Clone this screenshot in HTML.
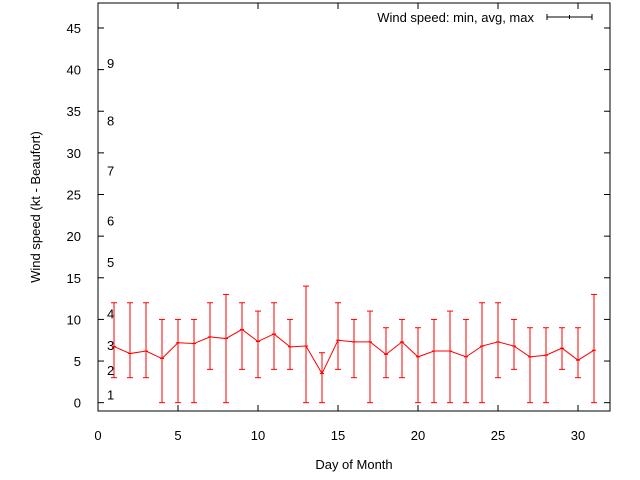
<!DOCTYPE html>
<html><head><meta charset="utf-8"><style>body{margin:0;background:#fff}svg{display:block;font-family:"Liberation Sans",sans-serif}</style></head>
<body>
<svg id="c" width="640" height="480" viewBox="0 0 640 480"></svg>
<script>
const days=[1,2,3,4,5,6,7,8,9,10,11,12,13,14,15,16,17,18,19,20,21,22,23,24,25,26,27,28,29,30,31];
const avgVals=[6.75,5.9,6.2,5.3,7.2,7.1,7.9,7.7,8.8,7.35,8.25,6.7,6.8,3.5,7.5,7.3,7.3,5.8,7.3,5.5,6.2,6.2,5.5,6.8,7.3,6.8,5.5,5.7,6.55,5.1,6.3];
const minVals=[3,3,3,0,0,0,4,0,4,3,4,4,0,0,4,3,0,3,3,0,0,0,0,0,3,4,0,0,4,3,0];
const maxVals=[12,12,12,10,10,10,12,13,12,11,12,10,14,6,12,10,11,9,10,9,10,11,10,12,12,10,9,9,9,9,13];
const xTicks=[0,5,10,15,20,25,30];
const yTicks=[0,5,10,15,20,25,30,35,40,45];
const beaufortLabels=["1","2","3","4","5","6","7","8","9"];
const beaufortLevels=[1,3.9,6.9,10.7,16.9,21.9,27.9,33.9,40.8];
const L=98,R=610,T=3,B=411,xmin=0,xmax=32,ymin=-1,ymax=48;
const X=v=>L+(v-xmin)/(xmax-xmin)*(R-L);
const Y=v=>B-(v-ymin)/(ymax-ymin)*(B-T);
const svg=document.getElementById('c');
const NS='http://www.w3.org/2000/svg';
function mk(t,a,p){const e=document.createElementNS(NS,t);for(const k in a)e.setAttribute(k,a[k]);(p||svg).appendChild(e);return e;}
const box=mk('rect',{x:L,y:T,width:R-L,height:B-T,fill:'none',stroke:'#000','stroke-width':1});


xTicks.forEach(v=>{
  const x=X(v);
  mk('line',{x1:x,y1:B,x2:x,y2:B-6,stroke:'#000'});
  mk('line',{x1:x,y1:T,x2:x,y2:T+6,stroke:'#000'});
  const t=mk('text',{x:x,y:440,'text-anchor':'middle','font-size':13});
  t.textContent=v;
  
  
});
yTicks.forEach(v=>{
  const y=Y(v);
  mk('line',{x1:L,y1:y,x2:L+6,y2:y,stroke:'#000'});
  mk('line',{x1:R,y1:y,x2:R-6,y2:y,stroke:'#000'});
  const t=mk('text',{x:81,y:y+5,'text-anchor':'end','font-size':13});
  t.textContent=v;
  
  
});
beaufortLabels.forEach((s,i)=>{
  const t=mk('text',{x:107,y:Y(beaufortLevels[i])+5,'font-size':13});
  t.textContent=s;
  
  
});
const g=mk('g',{stroke:'#f00','stroke-width':1,fill:'none'});


days.forEach((d,i)=>{
  const x=X(d),y1=Y(minVals[i]),y2=Y(maxVals[i]);
  mk('line',{x1:x,y1:y1,x2:x,y2:y2},g);
  mk('line',{x1:x-3,y1:y1,x2:x+3,y2:y1},g);
  mk('line',{x1:x-3,y1:y2,x2:x+3,y2:y2},g);
  mk('line',{x1:x-2,y1:Y(avgVals[i]),x2:x+2,y2:Y(avgVals[i])},g);
});
const pl=mk('polyline',{points:days.map((d,i)=>X(d)+','+Y(avgVals[i])).join(' ')},g);


const lt=mk('text',{x:534,y:22,'text-anchor':'end','font-size':13});
lt.textContent='Wind speed: min, avg, max';


const lg=mk('g',{stroke:'#000'});


mk('line',{x1:547,y1:17,x2:592,y2:17},lg);
mk('line',{x1:547,y1:14,x2:547,y2:20},lg);
mk('line',{x1:592,y1:14,x2:592,y2:20},lg);
mk('line',{x1:569.5,y1:15,x2:569.5,y2:19},lg);
const xt=mk('text',{x:354,y:469,'text-anchor':'middle','font-size':13});
xt.textContent='Day of Month';


const yt=mk('text',{x:0,y:0,'text-anchor':'middle','font-size':13,transform:'translate(40,207) rotate(-90)'});
yt.textContent='Wind speed (kt - Beaufort)';


</script>
</body></html>
